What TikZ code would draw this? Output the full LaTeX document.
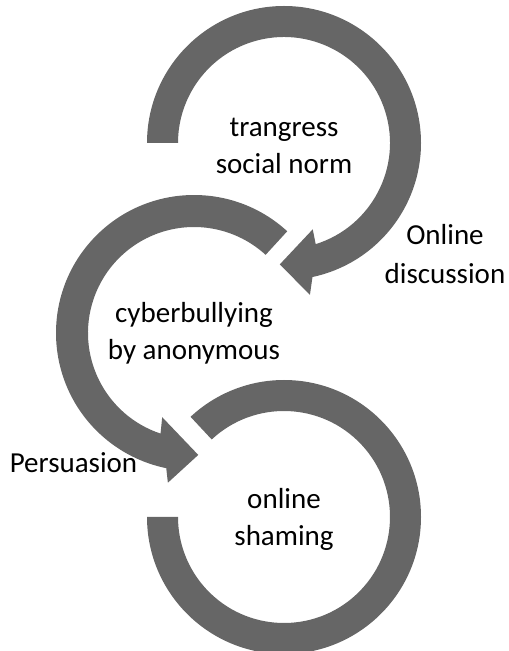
\documentclass[tikz,border=0pt]{standalone}
\usepackage{fontspec}
\setmainfont{Carlito}
\definecolor{arrowgray}{HTML}{666666}
\begin{document}
\begin{tikzpicture}[x=1pt,y=1pt,
  ring/.style={fill=arrowgray, draw=none},
  lbl/.style={font=\fontsize{29}{37}\selectfont, align=center, text=black, inner sep=0pt}]
\path[use as bounding box] (0,0) rectangle (509,651);
\coordinate (c1) at (284,508);
\coordinate (c2) at (194,318);
\coordinate (c3) at (284,134);
% circle 1 (clockwise, arrow at bottom)
\begin{scope}[shift={(c1)}]
\fill[ring] (180:137pt) arc[start angle=180, end angle=-78, radius=137pt]
  -- (-80.3:154pt) -- (-92:121.5pt) -- (-71.6:91pt) -- (-72.6:106pt)
  arc[start angle=-72.6, end angle=180, radius=106pt] -- cycle;
\end{scope}
% circle 2 (counter-clockwise, arrow at bottom)
\begin{scope}[shift={(c2)}]
\fill[ring] (47.5:138pt) arc[start angle=47.5, end angle=258.4, radius=138pt]
  -- (260.1:152pt) -- (272:122pt) -- (249.3:90pt) -- (251.6:106pt)
  arc[start angle=251.6, end angle=47.5, radius=106pt] -- cycle;
\end{scope}
% circle 3 (no head)
\begin{scope}[shift={(c3)}]
\fill[ring] (180:137pt) arc[start angle=180, end angle=493, radius=137pt]
  -- (493:106pt) arc[start angle=493, end angle=180, radius=106pt] -- cycle;
\end{scope}
\node[lbl] (t1) at ([yshift=-3pt]c1) {trangress\\social norm};
\node[lbl] (t2) at (c2) {cyberbullying\\by anonymous};
\node[lbl] (t3) at ([yshift=-2pt]c3) {online\\shaming};
\node[lbl, font=\fontsize{29}{39}\selectfont] (l1) at (445,397) {Online\\discussion};
\node[lbl, anchor=base] (l2) at (73.5,178) {Persuasion};
\end{tikzpicture}
\end{document}
